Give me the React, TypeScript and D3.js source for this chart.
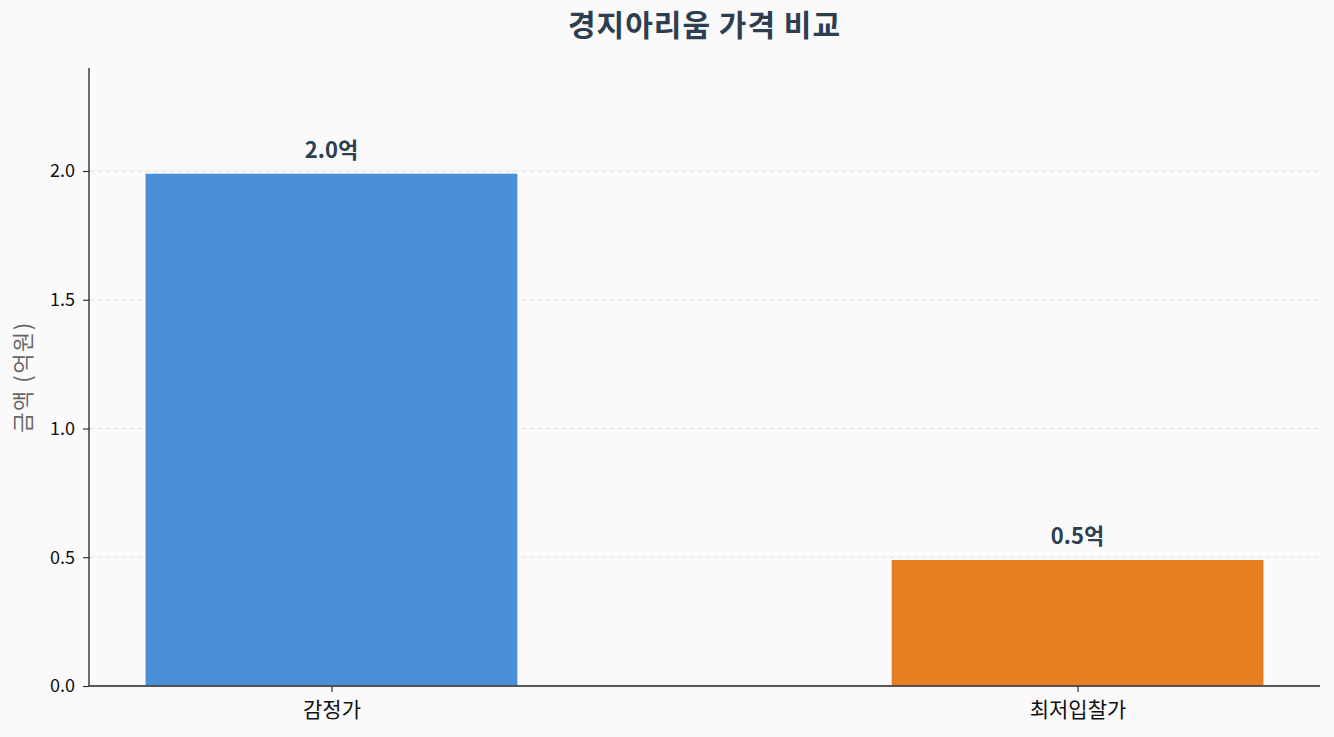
import { useEffect, useRef } from "react";
import * as d3 from "d3";
import React from "react";

const WIDTH = 1334;
const HEIGHT = 737;
const MARGIN = { top: 68, right: 14, bottom: 51, left: 89 };

const categories = ["감정가", "최저입찰가"];
const values = [1.992, 0.492];
const valueLabels = ["2.0억", "0.5억"];
const barColors = ["#4a90d9", "#e67e22"];
const yTicks = [0.0, 0.5, 1.0, 1.5, 2.0];

const FONT = "'Noto Sans CJK KR', 'Noto Sans', sans-serif";

export const App = () => {
  const axesRef = useRef(null);
  const boundsWidth = WIDTH - MARGIN.left - MARGIN.right;
  const boundsHeight = HEIGHT - MARGIN.top - MARGIN.bottom;

  // matplotlib-like limits: bars of width 0.5 plus 5% margins
  const xScale = d3.scaleLinear().domain([-0.325, 1.325]).range([0, boundsWidth]);
  const yScale = d3.scaleLinear().domain([0, 2.4]).range([boundsHeight, 0]);
  const barWidth = xScale(0.5) - xScale(0);

  useEffect(() => {
    const g = d3.select(axesRef.current);
    g.selectAll("*").remove();

    const yAxis = g
      .append("g")
      .call(
        d3
          .axisLeft(yScale)
          .tickValues(yTicks)
          .tickFormat(d3.format(".1f"))
          .tickSize(6)
          .tickPadding(8)
      );
    yAxis.attr("font-family", FONT).attr("font-size", 18);
    yAxis.select(".domain").attr("stroke", "#222").attr("stroke-width", 1.3).attr("d", `M0,${boundsHeight}V0`);
    yAxis.selectAll(".tick line").attr("stroke", "#222").attr("stroke-width", 1.1);
    yAxis.selectAll(".tick text").attr("fill", "#111");

    const xAxis = g
      .append("g")
      .attr("transform", `translate(0,${boundsHeight})`)
      .call(
        d3
          .axisBottom(xScale)
          .tickValues(categories.map((_, i) => i))
          .tickFormat((d) => categories[d as number])
          .tickSize(6)
          .tickPadding(10)
      );
    xAxis.attr("font-family", FONT).attr("font-size", 21);
    xAxis.select(".domain").attr("stroke", "#222").attr("stroke-width", 1.3).attr("d", `M0,0H${boundsWidth}`);
    xAxis.selectAll(".tick line").attr("stroke", "#222").attr("stroke-width", 1.1);
    xAxis.selectAll(".tick text").attr("fill", "#111");
  }, []);

  return (
    <svg
      width={WIDTH}
      height={HEIGHT}
      style={{ display: "block", position: "absolute", left: 0, top: 0, background: "#fafafa" }}
    >
      <rect width={WIDTH} height={HEIGHT} fill="#fafafa" />
      <text
        x={MARGIN.left + boundsWidth / 2}
        y={36}
        textAnchor="middle"
        fontFamily={FONT}
        fontWeight="bold"
        fontSize={30}
        letterSpacing={1}
        fill="#2c3e50"
      >
        경지아리움 가격 비교
      </text>
      <text
        transform={`translate(31,${MARGIN.top + boundsHeight / 2}) rotate(-90)`}
        textAnchor="middle"
        fontFamily={FONT}
        fontSize={22}
        letterSpacing={1.5}
        fill="#666"
      >
        금액 (억원)
      </text>
      <g transform={`translate(${MARGIN.left},${MARGIN.top})`}>
        {yTicks
          .filter((t) => t > 0)
          .map((t) => (
            <line
              key={t}
              x1={0}
              x2={boundsWidth}
              y1={yScale(t)}
              y2={yScale(t)}
              stroke="#dcdcdc"
              strokeWidth={1}
              strokeDasharray="5,3"
              opacity={0.8}
            />
          ))}
        {values.map((v, i) => (
          <rect
            key={categories[i]}
            x={xScale(i) - barWidth / 2}
            y={yScale(v)}
            width={barWidth}
            height={boundsHeight - yScale(v)}
            fill={barColors[i]}
            stroke="#ffffff"
            strokeWidth={1.2}
          />
        ))}
        {values.map((v, i) => (
          <text
            key={`label_${i}`}
            x={xScale(i)}
            y={yScale(v) - 15}
            textAnchor="middle"
            fontFamily={FONT}
            fontWeight="bold"
            fontSize={22}
            fill="#2c3e50"
          >
            {valueLabels[i]}
          </text>
        ))}
      </g>
      <g ref={axesRef} transform={`translate(${MARGIN.left},${MARGIN.top})`} />
    </svg>
  );
};

export default App;
